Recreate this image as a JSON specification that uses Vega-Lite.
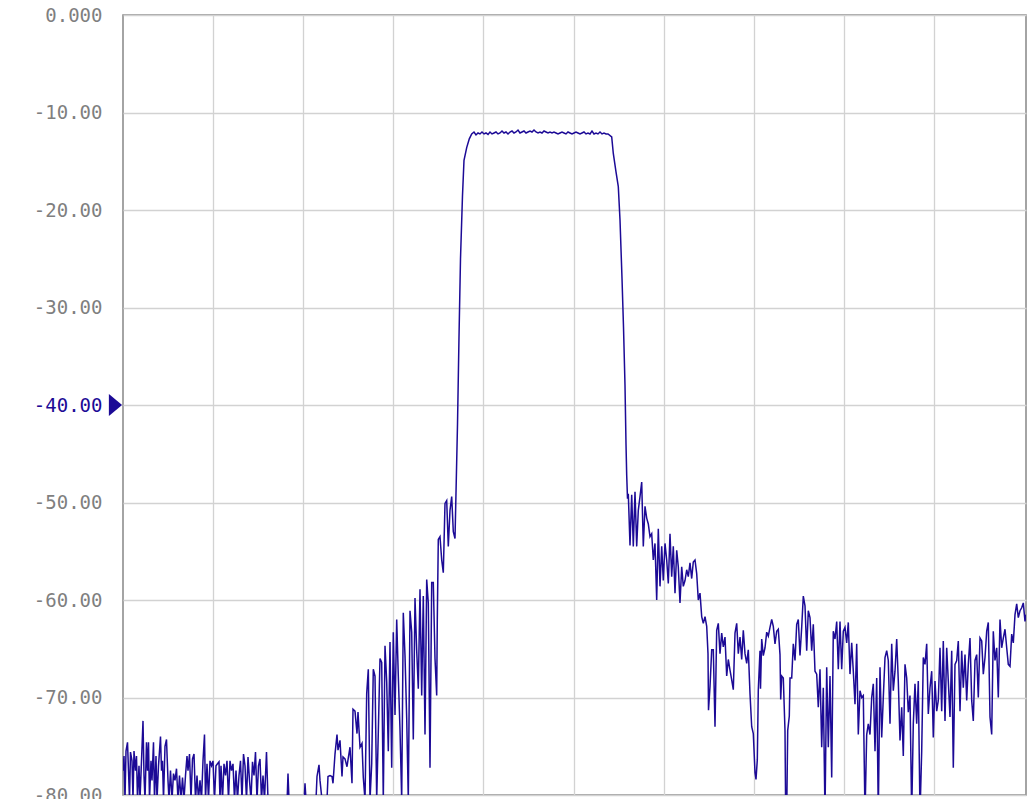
{
"$schema": "https://vega.github.io/schema/vega-lite/v6.json",
"width": 903, "height": 780,
"autosize": {"type": "none"},
"padding": {"left": 123, "top": 15, "right": 2, "bottom": 4},
"background": "#ffffff",
"config": {"view": {"stroke": "#868686", "strokeWidth": 1.5}, "axis": {"gridColor": "#d2d2d2", "gridWidth": 1.3}},
"layer": [
{"data": {"values": [
{"pt":0,"dB":-77.5},{"pt":1,"dB":-76.0},{"pt":2,"dB":-80.5},{"pt":3,"dB":-75.5},{"pt":4.5,"dB":-74.6},{"pt":5.5,"dB":-77.5},{"pt":6.5,"dB":-80.5},{"pt":7.5,"dB":-75.6},{"pt":9,"dB":-76.5},{"pt":10,"dB":-80.5},{"pt":11,"dB":-75.5},{"pt":12.5,"dB":-77.5},{"pt":13.5,"dB":-76.0},{"pt":14.5,"dB":-80.5},{"pt":16,"dB":-77.0},{"pt":17,"dB":-80.5},{"pt":18.5,"dB":-76.5},{"pt":20,"dB":-72.4},{"pt":21,"dB":-78.0},{"pt":22,"dB":-80.5},{"pt":23.5,"dB":-74.6},{"pt":24.5,"dB":-77.5},{"pt":25.5,"dB":-74.6},{"pt":26.5,"dB":-80.5},{"pt":28,"dB":-76.5},{"pt":29,"dB":-78.5},{"pt":30.5,"dB":-74.6},{"pt":31.5,"dB":-80.5},{"pt":33,"dB":-76.0},{"pt":34,"dB":-80.5},{"pt":35.5,"dB":-77.0},{"pt":37.5,"dB":-74.0},{"pt":38.5,"dB":-77.5},{"pt":39.5,"dB":-76.5},{"pt":40.5,"dB":-80.5},{"pt":42,"dB":-75.0},{"pt":43.5,"dB":-74.3},{"pt":45,"dB":-78.5},{"pt":46,"dB":-80.5},{"pt":47.5,"dB":-77.5},{"pt":49,"dB":-80.5},{"pt":50.5,"dB":-77.8},{"pt":52,"dB":-78.5},{"pt":53.5,"dB":-77.3},{"pt":55,"dB":-80.5},{"pt":56.5,"dB":-78.0},{"pt":58,"dB":-80.5},{"pt":59.5,"dB":-78.2},{"pt":61,"dB":-80.5},{"pt":62.5,"dB":-78.0},{"pt":64,"dB":-76.0},{"pt":65,"dB":-77.5},{"pt":66.5,"dB":-75.8},{"pt":68,"dB":-80.5},{"pt":69.5,"dB":-76.3},{"pt":71,"dB":-75.8},{"pt":72.5,"dB":-80.5},{"pt":74,"dB":-78.0},{"pt":75.5,"dB":-80.5},{"pt":77,"dB":-78.5},{"pt":78.5,"dB":-80.5},{"pt":80,"dB":-76.5},{"pt":81.5,"dB":-73.8},{"pt":82.5,"dB":-80.5},{"pt":84,"dB":-76.8},{"pt":85.5,"dB":-80.5},{"pt":87,"dB":-76.5},{"pt":88.5,"dB":-77.0},{"pt":90,"dB":-76.5},{"pt":91.5,"dB":-80.5},{"pt":93,"dB":-77.0},{"pt":94.5,"dB":-76.8},{"pt":96,"dB":-76.6},{"pt":97,"dB":-80.5},{"pt":98,"dB":-77.0},{"pt":99.5,"dB":-80.5},{"pt":101,"dB":-76.8},{"pt":102.5,"dB":-78.0},{"pt":104,"dB":-76.5},{"pt":105.5,"dB":-80.5},{"pt":107,"dB":-76.5},{"pt":108.5,"dB":-77.5},{"pt":110,"dB":-76.8},{"pt":111.5,"dB":-80.5},{"pt":113,"dB":-77.5},{"pt":114.5,"dB":-80.5},{"pt":116,"dB":-78.0},{"pt":117.5,"dB":-76.5},{"pt":119,"dB":-80.5},{"pt":120.5,"dB":-75.8},{"pt":122,"dB":-77.0},{"pt":123.5,"dB":-80.5},{"pt":125,"dB":-76.1},{"pt":126.5,"dB":-78.5},{"pt":128,"dB":-80.5},{"pt":129.5,"dB":-76.6},{"pt":131,"dB":-78.0},{"pt":132.5,"dB":-75.6},{"pt":134,"dB":-80.5},{"pt":135.5,"dB":-77.0},{"pt":137,"dB":-76.3},{"pt":138.5,"dB":-80.5},{"pt":140,"dB":-78.0},{"pt":141.5,"dB":-80.5},{"pt":143.5,"dB":-75.6},{"pt":145,"dB":-80.5},{"pt":150,"dB":-83},{"pt":158,"dB":-82},{"pt":164,"dB":-81},{"pt":165,"dB":-77.8},{"pt":166,"dB":-80.5},{"pt":175,"dB":-82},{"pt":181,"dB":-81},{"pt":182,"dB":-78.8},{"pt":183,"dB":-80.5},{"pt":190,"dB":-82},{"pt":193,"dB":-80.5},{"pt":194,"dB":-78.1},{"pt":196,"dB":-76.9},{"pt":197,"dB":-78.5},{"pt":199,"dB":-80.5},{"pt":203,"dB":-82},{"pt":204,"dB":-80.5},{"pt":205,"dB":-78.1},{"pt":207,"dB":-78.0},{"pt":209,"dB":-78.1},{"pt":210,"dB":-78.8},{"pt":212,"dB":-75.8},{"pt":214,"dB":-73.8},{"pt":215,"dB":-75.4},{"pt":217,"dB":-74.4},{"pt":219,"dB":-78.1},{"pt":220,"dB":-76.1},{"pt":222,"dB":-76.3},{"pt":224,"dB":-77.1},{"pt":225,"dB":-76.4},{"pt":227,"dB":-75.1},{"pt":229,"dB":-78.8},{"pt":230,"dB":-71.2},{"pt":232,"dB":-71.4},{"pt":234,"dB":-73.7},{"pt":235,"dB":-71.5},{"pt":237,"dB":-75.1},{"pt":239,"dB":-74.7},
{"pt":240.3,"dB":-78.2},{"pt":242,"dB":-80.5},{"pt":243.7,"dB":-69.6},{"pt":245.3,"dB":-67.1},{"pt":247,"dB":-80.5},{"pt":248.7,"dB":-76.8},{"pt":250.3,"dB":-67.1},{"pt":252,"dB":-67.8},{"pt":253.7,"dB":-80.5},{"pt":255.3,"dB":-73.6},{"pt":257,"dB":-66.0},{"pt":258.7,"dB":-66.4},{"pt":260.3,"dB":-80.5},{"pt":262,"dB":-64.7},{"pt":263.7,"dB":-68.4},{"pt":265.3,"dB":-75.5},{"pt":267,"dB":-64.3},{"pt":268.7,"dB":-77.2},{"pt":270.3,"dB":-63.3},{"pt":272,"dB":-71.8},{"pt":273.7,"dB":-62.0},{"pt":275.3,"dB":-67.8},{"pt":277,"dB":-73.3},{"pt":278.7,"dB":-80.5},{"pt":280.3,"dB":-61.3},{"pt":282,"dB":-65.7},{"pt":283.7,"dB":-72.1},{"pt":285.3,"dB":-80.5},{"pt":287,"dB":-61.1},{"pt":288.7,"dB":-63.3},{"pt":290.3,"dB":-74.3},{"pt":292,"dB":-59.8},{"pt":293.7,"dB":-65.2},{"pt":295.3,"dB":-69.1},{"pt":297,"dB":-58.9},{"pt":298.7,"dB":-69.8},{"pt":300.3,"dB":-59.6},{"pt":302,"dB":-73.8},{"pt":303.7,"dB":-57.9},{"pt":305.3,"dB":-60.3},{"pt":307,"dB":-77.2},{"pt":308.7,"dB":-58.2},{"pt":310.3,"dB":-58.2},{"pt":312,"dB":-66.0},{"pt":313.7,"dB":-69.8},{"pt":314.3,"dB":-62.0},{"pt":315.3,"dB":-53.8},{"pt":317,"dB":-53.5},{"pt":318.7,"dB":-55.9},{"pt":320.3,"dB":-57.2},{"pt":322,"dB":-50.1},{"pt":323.7,"dB":-49.8},{"pt":325.3,"dB":-54.5},{"pt":327,"dB":-50.8},{"pt":328.7,"dB":-49.4},{"pt":330.3,"dB":-53.0},{"pt":332,"dB":-53.7},
{"pt":333,"dB":-49},{"pt":334.5,"dB":-42},{"pt":336,"dB":-33},{"pt":337.5,"dB":-25},{"pt":339.5,"dB":-18.5},{"pt":341,"dB":-14.9},{"pt":343.7,"dB":-13.6},{"pt":346.3,"dB":-12.7},{"pt":348.7,"dB":-12.2},
{"pt":351,"dB":-12.0},{"pt":353,"dB":-12.3},{"pt":355,"dB":-12.1},{"pt":357,"dB":-12.2},{"pt":359,"dB":-12.0},{"pt":361,"dB":-12.2},{"pt":363,"dB":-12.1},{"pt":365,"dB":-12.25},{"pt":367,"dB":-12.0},{"pt":369,"dB":-12.2},{"pt":371,"dB":-12.1},{"pt":373,"dB":-12.0},{"pt":375,"dB":-12.2},{"pt":377,"dB":-12.1},{"pt":379,"dB":-11.9},{"pt":381,"dB":-12.1},{"pt":383,"dB":-12.0},{"pt":385,"dB":-12.2},{"pt":387,"dB":-12.0},{"pt":389,"dB":-11.9},{"pt":391,"dB":-12.1},{"pt":393,"dB":-12.0},{"pt":395,"dB":-11.8},{"pt":397,"dB":-12.1},{"pt":399,"dB":-12.0},{"pt":401,"dB":-11.9},{"pt":403,"dB":-12.1},{"pt":405,"dB":-12.0},{"pt":407,"dB":-11.9},{"pt":409,"dB":-12.0},{"pt":411,"dB":-11.8},{"pt":413,"dB":-12.0},{"pt":415,"dB":-12.1},{"pt":417,"dB":-12.0},{"pt":419,"dB":-12.1},{"pt":421,"dB":-11.9},{"pt":423,"dB":-12.0},{"pt":425,"dB":-12.1},{"pt":427,"dB":-12.0},{"pt":429,"dB":-12.1},{"pt":431,"dB":-12.0},{"pt":433,"dB":-12.1},{"pt":435,"dB":-12.2},{"pt":437,"dB":-12.1},{"pt":439,"dB":-12.0},{"pt":441,"dB":-12.1},{"pt":443,"dB":-12.2},{"pt":445,"dB":-12.0},{"pt":447,"dB":-12.1},{"pt":449,"dB":-12.2},{"pt":451,"dB":-12.1},{"pt":453,"dB":-12.0},{"pt":455,"dB":-12.1},{"pt":457,"dB":-12.2},{"pt":459,"dB":-12.1},{"pt":461,"dB":-12.0},{"pt":463,"dB":-12.2},{"pt":465,"dB":-12.1},{"pt":467,"dB":-12.2},{"pt":469,"dB":-11.9},{"pt":471,"dB":-12.2},{"pt":473,"dB":-12.1},{"pt":475,"dB":-12.2},{"pt":477,"dB":-12.0},{"pt":479,"dB":-12.2},{"pt":481,"dB":-12.1},{"pt":483,"dB":-12.2},{"pt":485,"dB":-12.2},
{"pt":488.7,"dB":-12.5},{"pt":490.3,"dB":-14.2},{"pt":493,"dB":-16.1},{"pt":495.3,"dB":-17.6},{"pt":497,"dB":-21},{"pt":499,"dB":-27},{"pt":500.5,"dB":-32},{"pt":502,"dB":-38},{"pt":503,"dB":-44},{"pt":503.7,"dB":-47.2},{"pt":504.5,"dB":-49.6},{"pt":505.3,"dB":-49.1},
{"pt":507,"dB":-54.4},{"pt":508.7,"dB":-49.2},{"pt":510.3,"dB":-54.5},{"pt":512,"dB":-48.9},{"pt":513.7,"dB":-54.5},{"pt":515.3,"dB":-50.8},{"pt":517,"dB":-49.4},{"pt":518.7,"dB":-47.9},{"pt":520.3,"dB":-54.5},{"pt":522,"dB":-50.4},{"pt":523.7,"dB":-51.6},{"pt":525.3,"dB":-52.2},{"pt":527,"dB":-53.5},{"pt":528.7,"dB":-53.2},{"pt":530.3,"dB":-55.9},{"pt":532,"dB":-54.2},{"pt":533.7,"dB":-60.0},{"pt":535.3,"dB":-52.7},{"pt":537,"dB":-58.6},{"pt":538.7,"dB":-54.5},{"pt":540.3,"dB":-58.0},{"pt":542,"dB":-54.2},{"pt":543.7,"dB":-55.9},{"pt":545.3,"dB":-58.3},{"pt":547,"dB":-53.2},{"pt":548.7,"dB":-57.6},{"pt":550.3,"dB":-54.5},{"pt":552,"dB":-59.3},{"pt":553.7,"dB":-54.9},{"pt":555.3,"dB":-56.6},{"pt":557,"dB":-60.3},{"pt":558.7,"dB":-56.6},{"pt":560.3,"dB":-58.6},{"pt":562,"dB":-58.0},{"pt":563.7,"dB":-56.9},{"pt":565.3,"dB":-57.6},{"pt":567,"dB":-56.2},{"pt":568.7,"dB":-57.8},{"pt":570.3,"dB":-56.1},{"pt":572,"dB":-55.9},{"pt":573.7,"dB":-57.3},{"pt":575.3,"dB":-60.0},{"pt":577,"dB":-59.3},{"pt":578.7,"dB":-61.7},{"pt":580.3,"dB":-62.4},{"pt":582,"dB":-61.7},{"pt":583.7,"dB":-62.7},{"pt":585,"dB":-65.5},{"pt":585.5,"dB":-71.3},{"pt":587,"dB":-68.9},{"pt":588.7,"dB":-65.1},{"pt":590.3,"dB":-65.1},{"pt":592,"dB":-73.0},{"pt":593.7,"dB":-63.1},{"pt":595.3,"dB":-62.4},{"pt":597,"dB":-65.5},{"pt":598.7,"dB":-63.4},{"pt":600.3,"dB":-64.8},{"pt":602,"dB":-63.8},{"pt":603.7,"dB":-67.8},{"pt":605.3,"dB":-66.1},{"pt":607,"dB":-67.2},{"pt":608.7,"dB":-68.2},{"pt":610.3,"dB":-69.2},{"pt":612,"dB":-63.4},{"pt":613.7,"dB":-62.4},{"pt":615.3,"dB":-65.5},{"pt":617,"dB":-63.8},{"pt":618.7,"dB":-66.1},{"pt":620.3,"dB":-63.1},{"pt":622,"dB":-65.5},{"pt":623.7,"dB":-66.5},{"pt":625.3,"dB":-65.1},{"pt":627,"dB":-69.6},{"pt":628.7,"dB":-73.0},{"pt":630.3,"dB":-73.7},{"pt":632,"dB":-77.7},{"pt":633,"dB":-78.4},{"pt":634.3,"dB":-76.4},{"pt":635.3,"dB":-69.2},
{"pt":637,"dB":-65.2},{"pt":637.5,"dB":-69.1},{"pt":638.7,"dB":-64.0},{"pt":640.3,"dB":-65.7},{"pt":642,"dB":-64.9},{"pt":643.7,"dB":-63.3},{"pt":645.3,"dB":-63.7},{"pt":647,"dB":-62.8},{"pt":648.7,"dB":-62.0},{"pt":650.3,"dB":-62.7},{"pt":652,"dB":-64.5},{"pt":653.7,"dB":-63.2},{"pt":655.3,"dB":-63.0},{"pt":657,"dB":-65.6},{"pt":657.7,"dB":-70.2},{"pt":658.7,"dB":-67.8},{"pt":660.3,"dB":-68.0},{"pt":662,"dB":-73.4},{"pt":662.7,"dB":-82},{"pt":663.7,"dB":-82},{"pt":664.7,"dB":-73.4},{"pt":666.3,"dB":-71.9},{"pt":667,"dB":-68.0},{"pt":668.7,"dB":-68.0},{"pt":670.3,"dB":-64.5},{"pt":672,"dB":-66.2},{"pt":673.7,"dB":-62.5},{"pt":675.3,"dB":-62.0},{"pt":677,"dB":-65.7},{"pt":678.7,"dB":-62.8},{"pt":680.3,"dB":-59.6},{"pt":682,"dB":-60.6},{"pt":683.7,"dB":-65.2},{"pt":685.3,"dB":-61.1},{"pt":687,"dB":-61.8},{"pt":688.7,"dB":-65.2},{"pt":690.3,"dB":-62.5},{"pt":692,"dB":-67.3},{"pt":693.7,"dB":-67.6},{"pt":695.3,"dB":-71.0},{"pt":697,"dB":-67.1},{"pt":698.7,"dB":-75.1},{"pt":700.3,"dB":-69.0},{"pt":702,"dB":-82},{"pt":703.7,"dB":-66.9},{"pt":705.3,"dB":-75.1},{"pt":707,"dB":-67.8},{"pt":708.7,"dB":-78.2},{"pt":710.3,"dB":-63.2},{"pt":712,"dB":-64.0},{"pt":713.7,"dB":-62.2},{"pt":715.3,"dB":-67.1},{"pt":717,"dB":-62.2},{"pt":718.7,"dB":-67.1},{"pt":720.3,"dB":-63.2},{"pt":722,"dB":-62.8},{"pt":723.7,"dB":-64.4},{"pt":725.3,"dB":-62.3},{"pt":727,"dB":-67.6},{"pt":728.7,"dB":-64.4},{"pt":730.3,"dB":-67.3},{"pt":732,"dB":-70.7},{"pt":733.7,"dB":-64.5},{"pt":735.3,"dB":-73.8},{"pt":737,"dB":-69.3},{"pt":738.7,"dB":-70.0},{"pt":740.3,"dB":-69.8},{"pt":742,"dB":-82},{"pt":743.7,"dB":-73.8},{"pt":745.3,"dB":-72.7},{"pt":747,"dB":-73.8},{"pt":748.7,"dB":-70.0},{"pt":750.3,"dB":-68.6},{"pt":752,"dB":-75.5},{"pt":753.7,"dB":-68.0},{"pt":755.3,"dB":-82},{"pt":757,"dB":-66.9},{"pt":758.7,"dB":-74.1},{"pt":760.3,"dB":-70.0},{"pt":762,"dB":-65.9},{"pt":763.7,"dB":-65.2},{"pt":765.3,"dB":-66.2},{"pt":767,"dB":-72.7},{"pt":768.7,"dB":-64.5},{"pt":770.3,"dB":-69.3},{"pt":772,"dB":-67.3},{"pt":773.7,"dB":-64.0},{"pt":775.3,"dB":-68.3},{"pt":777,"dB":-74.4},{"pt":778.7,"dB":-71.0},{"pt":780.3,"dB":-76.0},{"pt":782,"dB":-66.6},{"pt":783.7,"dB":-68.0},{"pt":785.3,"dB":-71.5},{"pt":787,"dB":-69.8},{"pt":788.7,"dB":-82},{"pt":790.3,"dB":-72.7},{"pt":792,"dB":-68.6},{"pt":793.7,"dB":-72.7},{"pt":795.3,"dB":-68.3},{"pt":797,"dB":-82},{"pt":798.7,"dB":-75.5},{"pt":800.3,"dB":-65.9},{"pt":802,"dB":-66.6},{"pt":803.7,"dB":-64.5},{"pt":805.3,"dB":-71.7},{"pt":807,"dB":-69.0},{"pt":808.7,"dB":-67.3},{"pt":810.3,"dB":-74.1},{"pt":812,"dB":-68.3},{"pt":813.7,"dB":-71.4},{"pt":815.3,"dB":-70.3},{"pt":817,"dB":-64.9},{"pt":818.7,"dB":-71.4},{"pt":820.3,"dB":-64.2},{"pt":822,"dB":-72.4},{"pt":823.7,"dB":-64.9},{"pt":825.3,"dB":-68.3},{"pt":827,"dB":-72.0},{"pt":828.7,"dB":-65.2},{"pt":830.3,"dB":-77.2},{"pt":832,"dB":-66.6},{"pt":833.7,"dB":-66.2},{"pt":835.3,"dB":-64.2},{"pt":837,"dB":-71.4},{"pt":838.7,"dB":-65.2},{"pt":840.3,"dB":-69.0},{"pt":842,"dB":-65.6},{"pt":843.7,"dB":-70.3},{"pt":845.3,"dB":-66.6},{"pt":847,"dB":-63.9},{"pt":848.7,"dB":-70.3},{"pt":850.3,"dB":-72.4},{"pt":852,"dB":-66.2},{"pt":853.7,"dB":-65.6},{"pt":855.3,"dB":-70.0},{"pt":857,"dB":-63.9},{"pt":858.7,"dB":-64.2},{"pt":860.3,"dB":-67.6},{"pt":862,"dB":-65.9},{"pt":863.7,"dB":-63.2},{"pt":865.3,"dB":-62.3},{"pt":867,"dB":-72.0},{"pt":868.7,"dB":-73.8},{"pt":870.3,"dB":-63.2},{"pt":872,"dB":-66.2},{"pt":873.7,"dB":-64.9},{"pt":875.3,"dB":-70.0},{"pt":877,"dB":-62.0},{"pt":878.7,"dB":-64.9},{"pt":880.3,"dB":-63.9},{"pt":882,"dB":-63.0},{"pt":883.7,"dB":-64.9},{"pt":885.3,"dB":-66.6},{"pt":887,"dB":-66.8},{"pt":888.7,"dB":-63.5},{"pt":890.3,"dB":-64.4},{"pt":892,"dB":-61.5},{"pt":893.7,"dB":-60.4},{"pt":895.3,"dB":-61.8},{"pt":897,"dB":-61.1},{"pt":898.7,"dB":-60.8},{"pt":900.3,"dB":-60.3},{"pt":902,"dB":-62.2},{"pt":903,"dB":-61.5}
]},
"mark": {"type": "line", "clip": true, "color": "#1c0a96", "strokeWidth": 1.5, "interpolate": "linear"},
"encoding": {
"x": {"field": "pt", "type": "quantitative", "scale": {"domain": [0, 903], "nice": false, "zero": false},
 "axis": {"values": [90.1, 180.2, 270.3, 360.4, 450.5, 540.6, 630.7, 720.8, 810.9], "labels": false, "ticks": false, "domain": false, "title": null, "grid": true}},
"y": {"field": "dB", "type": "quantitative", "scale": {"domain": [-80, 0], "nice": false},
 "axis": {"values": [0, -10, -20, -30, -40, -50, -60, -70, -80], "title": null, "ticks": false, "domain": false, "grid": true,
  "labelFont": "DejaVu Sans Mono", "labelFontSize": 19, "labelPadding": 21,
  "labelColor": {"condition": {"test": "datum.value == -40", "value": "#1c0a96"}, "value": "#7f7f7f"},
  "labelExpr": "datum.value == 0 ? '0.000' : '-' + format(abs(datum.value), '.2f')",
  "labelOverlap": false, "labelBound": false, "labelFlush": false}}
}},
{"data": {"values": [{"level": -40}]},
"mark": {"type": "point", "shape": "M -0.6 -1 L 0.6 0 L -0.6 1 Z", "filled": true, "color": "#1c0a96", "size": 484, "opacity": 1, "xOffset": -7.5},
"encoding": {"x": {"datum": 0}, "y": {"field": "level", "type": "quantitative"}}}
]
}
